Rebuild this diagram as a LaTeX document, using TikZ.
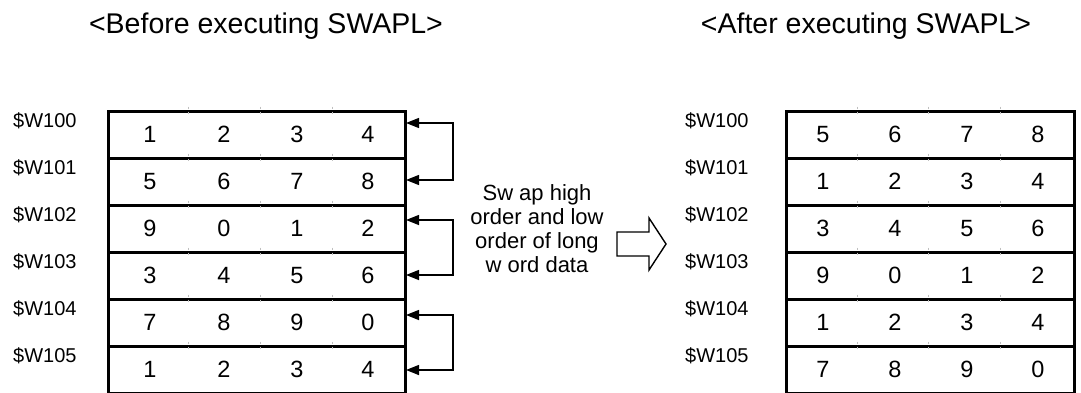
\documentclass[tikz,border=0pt]{standalone}
\usepackage{fontspec}
\setmainfont{Liberation Sans}
\usetikzlibrary{arrows.meta}
\tikzset{
  rowbox/.style={draw, line width=3pt, minimum width=#1, minimum height=47pt, inner sep=0pt, anchor=north west},
  num/.style={font=\fontsize{23.5}{26}\selectfont, inner sep=0pt},
  lbl/.style={font=\fontsize{20}{22}\selectfont, inner sep=0pt, anchor=base west},
  ttl/.style={font=\fontsize{28.5}{30}\selectfont, inner sep=0pt, anchor=base},
  swp/.style={draw, line width=1.4pt, {Triangle[length=13pt,width=10pt]}-{Triangle[length=13pt,width=10pt]}},
  tick/.style={draw=black!25, line width=0.8pt}
}
\begin{document}
\begin{tikzpicture}[x=1pt,y=-1pt]
\clip (0,0) rectangle (1081,392);
\fill[white] (0,0) rectangle (1081,392);

% titles
\node[ttl] (tb) at (266,33) {<Before executing SWAPL>};
\node[ttl] (ta) at (866,33) {<After executing SWAPL>};

% left table
\foreach \r/\a/\b/\c/\d in {0/1/2/3/4,1/5/6/7/8,2/9/0/1/2,3/3/4/5/6,4/7/8/9/0,5/1/2/3/4}{
  \pgfmathsetmacro{\top}{110+47*\r}
  \node[rowbox=297pt] (L\r) at (107,\top) {};
  \node[lbl] (LL\r) at (13,\top+17) {\$W10\r};
  \node[num] (La\r) at (150,\top+24.5) {\a};
  \node[num] (Lb\r) at (224,\top+24.5) {\b};
  \node[num] (Lc\r) at (297,\top+24.5) {\c};
  \node[num] (Ld\r) at (368,\top+24.5) {\d};
  \foreach \x in {188,260,332}{
    \draw[tick] (\x,\top-3.5) -- (\x,\top-1.5);
    \draw[tick] (\x,\top+1.5) -- (\x,\top+3.5);
  }
}

% right table
\foreach \r/\a/\b/\c/\d in {0/5/6/7/8,1/1/2/3/4,2/3/4/5/6,3/9/0/1/2,4/1/2/3/4,5/7/8/9/0}{
  \pgfmathsetmacro{\top}{110+47*\r}
  \node[rowbox=288pt] (R\r) at (785,\top) {};
  \node[lbl] (RL\r) at (685,\top+17) {\$W10\r};
  \node[num] (Ra\r) at (823,\top+24.5) {\a};
  \node[num] (Rb\r) at (895,\top+24.5) {\b};
  \node[num] (Rc\r) at (967,\top+24.5) {\c};
  \node[num] (Rd\r) at (1038,\top+24.5) {\d};
  \foreach \x in {857,928,1000}{
    \draw[tick] (\x,\top-3.5) -- (\x,\top-1.5);
    \draw[tick] (\x,\top+1.5) -- (\x,\top+3.5);
  }
}

% swap brackets
\coordinate (p1a) at (406,123); \coordinate (p1b) at (406,180);
\coordinate (p2a) at (406,220); \coordinate (p2b) at (406,275);
\coordinate (p3a) at (406,315); \coordinate (p3b) at (406,370);
\draw[swp] (p1a) -- (453,123) -- (453,180) -- (p1b);
\draw[swp] (p2a) -- (453,220) -- (453,275) -- (p2b);
\draw[swp] (p3a) -- (453,315) -- (453,370) -- (p3b);

% middle text
\node[font=\fontsize{22}{24}\selectfont, align=center, inner sep=0pt] (mid) at (537,229)
  {Sw ap high\\order and low\\order of long\\w ord data};

% hollow arrow
\draw[line width=1.4pt, line join=miter, fill=white] (617,232) -- (649,232) -- (649,218) -- (666,244)
  -- (649,270) -- (649,256) -- (617,256) -- cycle;
\end{tikzpicture}
\end{document}
